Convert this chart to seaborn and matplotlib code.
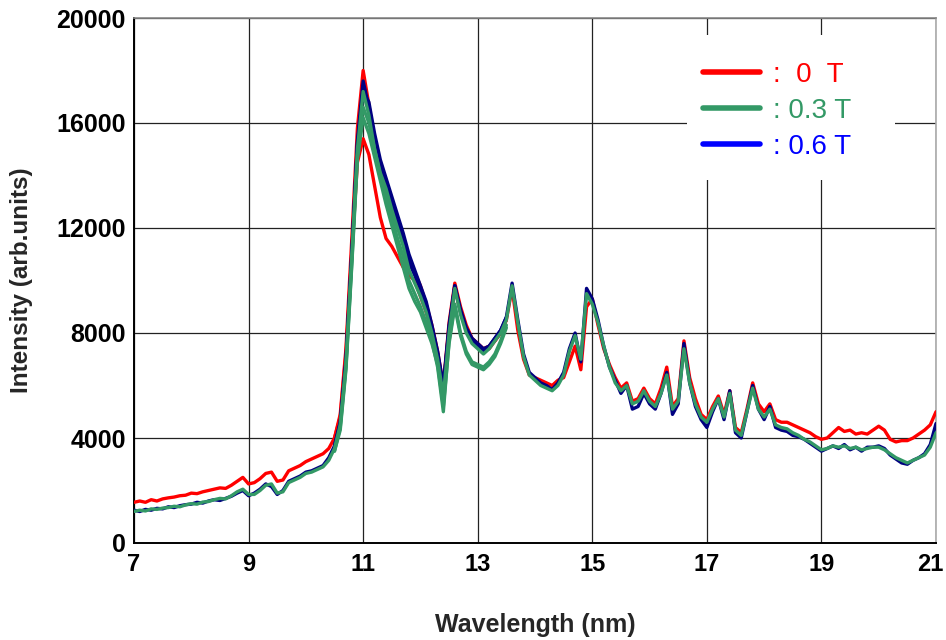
import numpy as np
import pandas as pd
import matplotlib
matplotlib.use("Agg")
import matplotlib.pyplot as plt
import matplotlib.transforms as mtransforms
from matplotlib.lines import Line2D
from matplotlib.patches import Rectangle
import seaborn as sns

# ---------------- data ----------------
wavelength = np.round(np.arange(7.0, 21.001, 0.1), 1)          # nm, 141 points
wavelength_peak = np.round(np.arange(10.5, 13.501, 0.1), 1)    # nm, 31 points

red_0T = [
    1550, 1600, 1550, 1650, 1600, 1680, 1720, 1750, 1800, 1820,
    1900, 1880, 1950, 2000, 2050, 2100, 2080, 2200, 2350, 2500,
    2250, 2300, 2450, 2650, 2700, 2350, 2400, 2750, 2850, 2950,
    3100, 3200, 3300, 3400, 3600, 4000, 4900, 7400, 11500, 15800,
    18000, 16700, 15200, 14200, 13700, 12900, 12200, 11500, 10800, 10300,
    9800, 9100, 8300, 7300, 6000, 8400, 9900, 9000, 8300, 7800,
    7600, 7400, 7500, 7700, 8000, 8500, 9700, 8100, 7000, 6400,
    6300, 6200, 6100, 6000, 6200, 6300, 6900, 7500, 6600, 9000,
    9300, 8300, 7400, 6800, 6300, 5900, 6100, 5400, 5500, 5900,
    5500, 5300, 5900, 6700, 5200, 5500, 7700, 6300, 5500, 4900,
    4700, 5200, 5600, 4900, 5800, 4400, 4200, 5100, 6100, 5300,
    5000, 5300, 4700, 4600, 4600, 4500, 4400, 4300, 4200, 4050,
    3950, 4000, 4200, 4400, 4250, 4300, 4150, 4200, 4150, 4300,
    4450, 4300, 3950, 3850, 3900, 3900, 4000, 4150, 4300, 4500,
    5000,
]

green_03T = [
    1200, 1250, 1220, 1300, 1280, 1330, 1350, 1400, 1380, 1450,
    1500, 1480, 1560, 1580, 1650, 1700, 1680, 1800, 1950, 2050,
    1850, 1850, 2000, 2200, 2250, 1900, 1950, 2300, 2400, 2500,
    2650, 2700, 2800, 2900, 3150, 3600, 4500, 6800, 10800, 15000,
    17200, 16300, 15000, 14100, 13500, 12700, 12000, 11300, 10400, 9900,
    9400, 8800, 8000, 7000, 5600, 8000, 9700, 8700, 8000, 7600,
    7400, 7200, 7400, 7700, 8000, 8500, 9800, 8400, 7100, 6400,
    6200, 6000, 5900, 5800, 6000, 6400, 7300, 7900, 7000, 9500,
    9100, 8400, 7500, 6700, 6100, 5800, 6000, 5300, 5400, 5800,
    5400, 5200, 5700, 6400, 5100, 5400, 7400, 6100, 5300, 4800,
    4600, 5100, 5500, 4800, 5700, 4300, 4100, 5000, 5900, 5100,
    4800, 5100, 4500, 4400, 4350, 4200, 4100, 3950, 3850, 3700,
    3550, 3600, 3700, 3650, 3700, 3600, 3650, 3550, 3600, 3650,
    3650, 3550, 3400, 3250, 3150, 3050, 3150, 3250, 3350, 3650,
    4200,
]

navy_06T = [
    1250, 1200, 1280, 1250, 1320, 1300, 1380, 1350, 1420, 1460,
    1480, 1550, 1520, 1600, 1650, 1620, 1700, 1780, 1900, 2000,
    1800, 1900, 2050, 2250, 2150, 1850, 2000, 2350, 2450, 2550,
    2700, 2750, 2850, 2950, 3250, 3700, 4600, 7000, 11000, 15300,
    17600, 16600, 15300, 14400, 13800, 13000, 12300, 11500, 10700, 10200,
    9700, 9000, 8200, 7200, 5900, 8200, 9800, 8800, 8100, 7700,
    7500, 7300, 7500, 7800, 8100, 8600, 9900, 8500, 7200, 6500,
    6300, 6100, 6000, 5850, 6100, 6500, 7400, 8000, 6900, 9700,
    9300, 8500, 7500, 6700, 6200, 5700, 6000, 5100, 5200, 5700,
    5300, 5100, 5700, 6500, 4900, 5300, 7600, 6100, 5200, 4700,
    4400, 5000, 5500, 4700, 5800, 4200, 4000, 5000, 6000, 5100,
    4700, 5200, 4400, 4300, 4250, 4100, 4050, 3950, 3800, 3650,
    3500, 3600, 3700, 3600, 3750, 3550, 3650, 3500, 3650, 3650,
    3700, 3600, 3350, 3200, 3050, 3000, 3150, 3250, 3400, 3750,
    4550,
]

# additional shots around the main peak (10.5 - 13.5 nm)
red_0T_b = [
    4000, 4800, 7200, 11000, 14500,
    15400, 14800, 13600, 12400, 11600, 11300, 10900, 10500, 10200, 10000,
    9400, 8800, 8000, 7100, 5900, 8200, 9700, 8800, 8100, 7700,
    7500, 7300, 7400, 7700, 8000, 8500,
]
green_03T_b = [
    3500, 4400, 6700, 10600, 14800,
    16600, 16000, 15000, 14000, 13200, 12400, 11600, 10900, 10000, 9500,
    9000, 8400, 7700, 6700, 5000, 7700, 9100, 8000, 7300, 6900,
    6800, 6700, 6900, 7200, 7700, 8300,
]
green_03T_c = [
    3500, 4300, 6600, 10500, 14600,
    16200, 15600, 14700, 13800, 12900, 12100, 11300, 10500, 9700, 9200,
    8800, 8200, 7600, 6800, 5200, 7600, 9000, 7900, 7200, 6800,
    6700, 6600, 6800, 7100, 7600, 8200,
]
navy_06T_b = [
    3700, 4600, 6900, 10900, 15200,
    17200, 16800, 15600, 14600, 13900, 13200, 12500, 11800, 11000, 10400,
    9800, 9200, 8300, 7300, 6000, 8300, 9800, 8900, 8200, 7800,
    7600, 7400, 7500, 7800, 8100, 8600,
]

legend_labels = [":  0  T", ": 0.3 T", ": 0.6 T"]
x_ticks = [7, 9, 11, 13, 15, 17, 19, 21]
y_ticks = [0, 4000, 8000, 12000, 16000, 20000]

# ---------------- style ----------------
RED = "#ff0000"
GREEN = "#339966"
NAVY = "#000080"
BLUE = "#0000ff"

sns.set_theme(style="white")
plt.rcParams["font.family"] = ["Liberation Sans", "DejaVu Sans"]

fig = plt.figure(figsize=(9.46, 6.40), dpi=100)
ax = fig.add_axes([134 / 946, 97 / 640, 802 / 946, 525 / 640])

traces = [
    (wavelength_peak, red_0T_b, RED),
    (wavelength, red_0T, RED),
    (wavelength_peak, navy_06T_b, NAVY),
    (wavelength, navy_06T, NAVY),
    (wavelength_peak, green_03T_c, GREEN),
    (wavelength_peak, green_03T_b, GREEN),
    (wavelength, green_03T, GREEN),
]
for i, (xs, ys, col) in enumerate(traces):
    df = pd.DataFrame({"wl": xs, "I": ys})
    sns.lineplot(data=df, x="wl", y="I", color=col, linewidth=2.4,
                 estimator=None, sort=False, ax=ax, legend=False, zorder=3 + i * 0.1)

ax.set_xlim(7, 21)
ax.set_ylim(0, 20000)
ax.set_xticks(x_ticks)
ax.set_xticks(np.arange(8, 21, 2), minor=True)
ax.set_yticks(y_ticks)
ax.set_yticks(np.arange(2000, 20000, 4000), minor=True)
ax.set_xticklabels([str(t) for t in x_ticks])
ax.set_yticklabels([str(t) for t in y_ticks])
ax.tick_params(axis="both", which="both", direction="in", colors="black")
ax.tick_params(axis="x", which="major", length=0, pad=7)
ax.tick_params(axis="y", which="major", length=0, pad=6)
ax.tick_params(axis="both", which="minor", length=5, width=1)
for lab in ax.get_xticklabels():
    lab.set_fontsize(17)
    lab.set_fontweight("bold")
for lab in ax.get_yticklabels():
    lab.set_fontsize(18)
    lab.set_fontweight("bold")
# keep the last x label ("21") inside the figure, as in the reference
last = ax.get_xticklabels()[-1]
last.set_transform(last.get_transform() +
                   mtransforms.ScaledTranslation(-4 / 72, 0, fig.dpi_scale_trans))

ax.grid(True, which="major", color="#222222", linewidth=0.9)
ax.set_axisbelow(True)

for side in ["left", "bottom"]:
    ax.spines[side].set_color("black")
    ax.spines[side].set_linewidth(1.4)
ax.spines["top"].set_color("#888888")
ax.spines["right"].set_color("#aaaaaa")
ax.spines["top"].set_linewidth(1.2)
ax.spines["right"].set_linewidth(1.2)

ax.set_xlabel("Wavelength (nm)", fontsize=18, fontweight="bold", labelpad=27)
ax.set_ylabel("Intensity (arb.units)", fontsize=17.5, fontweight="bold", labelpad=17)

# legend box (white, no border) covering the grid
ax.add_patch(Rectangle((0.69, 0.691), 0.259, 0.277, transform=ax.transAxes,
                       facecolor="white", edgecolor="none", zorder=5))
handles = [Line2D([], [], color=c, linewidth=4, solid_capstyle="round")
           for c in (RED, GREEN, BLUE)]
leg = ax.legend(handles, legend_labels, loc="upper left",
                bbox_to_anchor=(0.7095, 0.916), frameon=False,
                borderpad=0, borderaxespad=0,
                fontsize=20, handlelength=2.05, handletextpad=0.47,
                labelspacing=0.36, labelcolor=[RED, GREEN, BLUE])
leg.set_zorder(6)

fig.savefig("out.png", dpi=100)
